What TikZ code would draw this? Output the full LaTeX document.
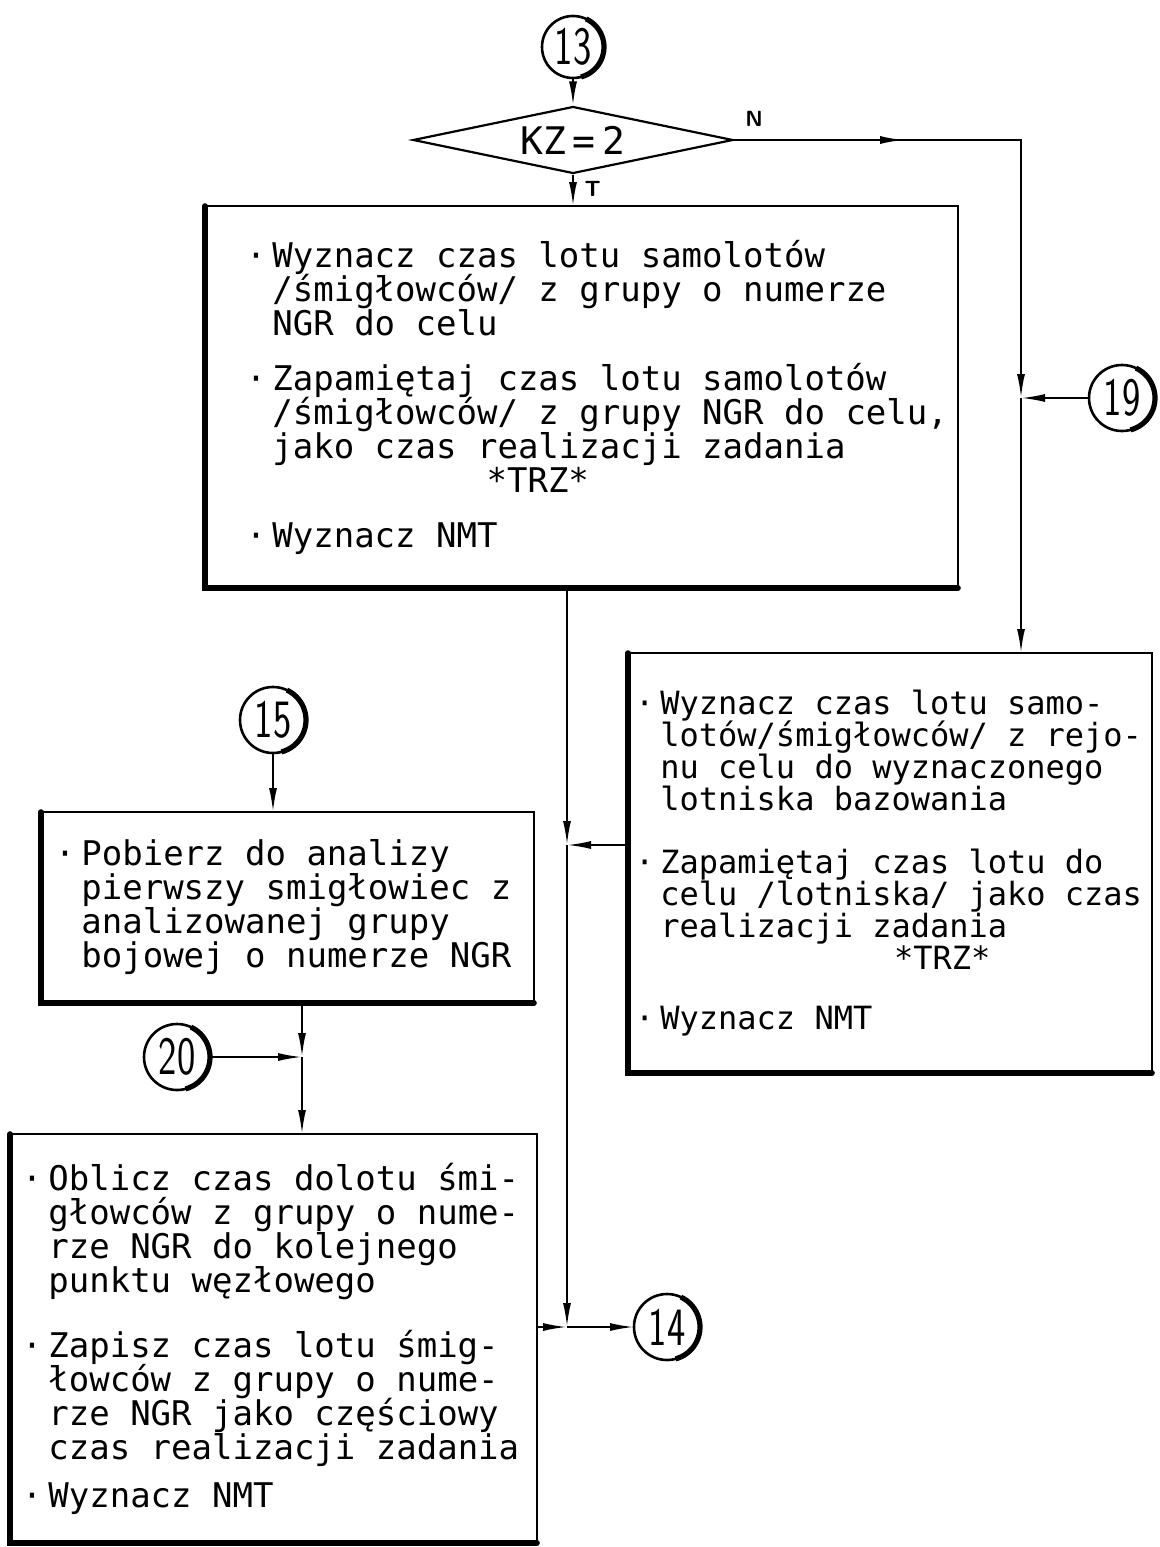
\documentclass[tikz,border=0pt]{standalone}
\usepackage{fontspec}
\newfontfamily\handfont{DejaVu Sans Mono}
\usetikzlibrary{shapes.geometric,arrows.meta,decorations.markings}

\newcommand\hand[2]{\handfont\fontsize{#1}{#2}\selectfont\lineskiplimit=-\maxdimen}
\newcommand\kropka{\llap{\textperiodcentered\hspace{3pt}}}
\newcommand\cnum[1]{\scalebox{0.72}[1]{#1}}

\tikzset{
  line/.style={line width=1pt},
  arr/.style={line,-{Latex[length=12pt,width=4pt]}},
  midarr/.style={postaction={decorate},decoration={markings,
      mark=at position #1 with {\arrow{Latex[length=12pt,width=4pt]}}}},
  conn/.style={circle,draw,line width=1.3pt,inner sep=0pt,outer sep=0pt,
      minimum size=33pt,font=\sffamily\fontsize{27}{27}\selectfont},
  box/.style={draw,line width=1.1pt,outer sep=0pt},
  txt/.style={anchor=west,align=left,inner sep=0pt},
  lbl/.style={font=\sffamily\bfseries\fontsize{11}{11}\selectfont}
}

\begin{document}
\begin{tikzpicture}[x=0.5pt,y=-0.5pt]
  \path[use as bounding box,fill=white] (0,0) rectangle (1160,1547);

  % connectors
  \node (c13) at (573,47) [conn,minimum size=31pt] {\cnum{13}};
  \node (c19) at (1122,398) [conn] {\cnum{19}};
  \node (c15) at (273,720) [conn] {\cnum{15}};
  \node (c20) at (177,1057) [conn] {\cnum{20}};
  \node (c14) at (667,1327) [conn] {\cnum{14}};
  \foreach \c/\r in {c13/15.5,c19/16.5,c15/16.5,c20/16.5,c14/16.5}
    \draw[line width=2.6pt] (\c.-75) arc[start angle=-75,end angle=65,radius=\r pt];

  % decision
  \node (kz) at (573,140) [diamond,draw,line width=1.1pt,aspect=4.8,
      minimum width=160pt,minimum height=33.5pt,inner sep=1pt,
      font=\hand{19}{19}] {KZ\,=\,2};

  % process boxes
  \node (b1) at (581.5,397) [box,minimum width=376.5pt,minimum height=191pt] {};
  \node (b2) at (890,863) [box,minimum width=262pt,minimum height=210pt] {};
  \node (b3) at (287.5,907.5) [box,minimum width=246.5pt,minimum height=95.5pt] {};
  \node (b4) at (273.5,1338.5) [box,minimum width=263.5pt,minimum height=204.5pt] {};
  \foreach \b in {b1,b2,b3,b4}
    \draw[line width=2.8pt,line cap=round] (\b.north west) -- (\b.south west) -- (\b.south east);

  \node (t1) at ([xshift=33.5pt]b1.west) [txt,font=\hand{17}{17}] {%
    \kropka Wyznacz czas lotu samolotów\\
    /śmigłowców/ z grupy o numerze\\
    NGR do celu\\[10.5pt]
    \kropka Zapamiętaj czas lotu samolotów\\
    /śmigłowców/ z grupy NGR do celu,\\
    jako czas realizacji zadania\\
    \hspace*{6.3em}*TRZ*\\[10.5pt]
    \kropka Wyznacz NMT};

  \node (t2) at ([xshift=16pt]b2.west) [txt,font=\hand{16}{16}] {%
    \kropka Wyznacz czas lotu samo-\\
    lotów/śmigłowców/ z rejo-\\
    nu celu do wyznaczonego\\
    lotniska bazowania\\[15.5pt]
    \kropka Zapamiętaj czas lotu do\\
    celu /lotniska/ jako czas\\
    realizacji zadania\\
    \hspace*{7.3em}*TRZ*\\[14pt]
    \kropka Wyznacz NMT};

  \node (t3) at ([xshift=20pt]b3.west) [txt,font=\hand{17}{17}] {%
    \kropka Pobierz do analizy\\
    pierwszy smigłowiec z\\
    analizowanej grupy\\
    bojowej o numerze NGR};

  \node (t4) at ([xshift=19pt]b4.west) [txt,font=\hand{17}{17}] {%
    \kropka Oblicz czas dolotu śmi-\\
    głowców z grupy o nume-\\
    rze NGR do kolejnego\\
    punktu węzłowego\\[15.5pt]
    \kropka Zapisz czas lotu śmig-\\
    łowców z grupy o nume-\\
    rze NGR jako częściowy\\
    czas realizacji zadania\\[7pt]
    \kropka Wyznacz NMT};

  % flow lines
  \coordinate (j19) at (1021,398);
  \coordinate (j2) at (567,845);
  \coordinate (j14) at (567,1327);
  \coordinate (j20) at (302,1057);

  \draw[arr] (c13) -- (kz);
  \draw[arr] (kz) -- (kz |- b1.north) node[lbl,pos=0.45,right=2pt] {T};
  \draw[arr,midarr=85pt] (kz) -- node[lbl,pos=0.07,above=3pt] {N} (kz -| j19) -- (j19);
  \draw[arr] (c19) -- (j19);
  \draw[arr] (j19) -- (j19 |- b2.north);
  \draw[arr] (b1.south -| j2) -- (j2);
  \draw[arr] (j2 -| b2.west) -- (j2);
  \draw[arr] (j2) -- (j14);
  \draw[arr] (j14 -| b4.east) -- (j14);
  \draw[arr] (j14) -- (c14);
  \draw[arr] (c15) -- (c15 |- b3.north);
  \draw[arr] (b3.south -| j20) -- (j20);
  \draw[arr] (c20) -- (j20);
  \draw[arr] (j20) -- (j20 |- b4.north);
\end{tikzpicture}
\end{document}
